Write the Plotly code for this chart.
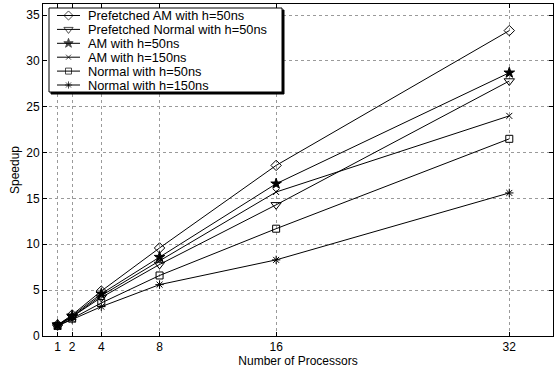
import plotly.graph_objects as go

processors = [1, 2, 4, 8, 16, 32]
series_names = [
    "Prefetched AM with h=50ns",
    "Prefetched Normal with h=50ns",
    "AM with h=50ns",
    "AM with h=150ns",
    "Normal with h=50ns",
    "Normal with h=150ns",
]
pref_am_50 = [1.2, 2.3, 4.9, 9.6, 18.6, 33.3]
pref_norm_50 = [1.2, 2.1, 4.2, 7.8, 14.3, 27.8]
am_50 = [1.2, 2.2, 4.6, 8.6, 16.6, 28.7]
am_150 = [1.1, 2.1, 4.4, 8.2, 15.7, 24.0]
norm_50 = [1.1, 1.9, 3.6, 6.6, 11.7, 21.5]
norm_150 = [1.1, 1.8, 3.2, 5.6, 8.3, 15.6]
series_values = [pref_am_50, pref_norm_50, am_50, am_150, norm_50, norm_150]
x_ticks = [1, 2, 4, 8, 16, 32]
y_ticks = [0, 5, 10, 15, 20, 25, 30, 35]

# styles
symbols = ["diamond-open", "triangle-down-open", "star", "x-thin-open",
           "square-open", "asterisk-open"]
sizes = [8, 9, 8, 6, 7, 7]

# figure geometry (pixels)
W, H = 555, 368
ML, MR, MT, MB = 43, 2, 4, 32
PX0, PX1 = ML, W - MR
PY0, PY1 = MT, H - MB

# legend box geometry in pixel coordinates of the overlay axes
LEG_X0, LEG_X1, LEG_Y0, LEG_Y1 = 49, 282, 8, 92
LEG_ROW0, LEG_ROW_STEP = 15.5, 13.9
LEG_LINE_X0, LEG_LINE_X1, LEG_TEXT_X = 57, 80, 87
LEG_FONT = 12.8

fig = go.Figure()
for name, vals, sym, sz in zip(series_names, series_values, symbols, sizes):
    fig.add_trace(go.Scatter(
        x=processors, y=vals, name=name, mode="lines+markers",
        line=dict(color="black", width=1),
        marker=dict(symbol=sym, size=sz, color="black",
                    line=dict(color="black", width=1)),
        showlegend=False,
    ))

# --- custom legend drawn on an overlay axis measured in pixels ---
fig.add_trace(go.Scatter(
    x=[LEG_X0 + 2, LEG_X1 + 2, LEG_X1 + 2, LEG_X0 + 2, LEG_X0 + 2],
    y=[LEG_Y0 + 2, LEG_Y0 + 2, LEG_Y1 + 2, LEG_Y1 + 2, LEG_Y0 + 2],
    xaxis="x2", yaxis="y2", mode="lines", fill="toself",
    fillcolor="black", line=dict(color="black", width=1),
    showlegend=False, hoverinfo="skip",
))
fig.add_trace(go.Scatter(
    x=[LEG_X0, LEG_X1, LEG_X1, LEG_X0, LEG_X0],
    y=[LEG_Y0, LEG_Y0, LEG_Y1, LEG_Y1, LEG_Y0],
    xaxis="x2", yaxis="y2", mode="lines", fill="toself",
    fillcolor="white", line=dict(color="black", width=1),
    showlegend=False, hoverinfo="skip",
))
for i, (name, sym, sz) in enumerate(zip(series_names, symbols, sizes)):
    ry = LEG_ROW0 + i * LEG_ROW_STEP
    fig.add_trace(go.Scatter(
        x=[LEG_LINE_X0, (LEG_LINE_X0 + LEG_LINE_X1) / 2, LEG_LINE_X1],
        y=[ry, ry, ry], xaxis="x2", yaxis="y2",
        mode="lines+markers",
        line=dict(color="black", width=1),
        marker=dict(symbol=sym, size=[0, sz - 1, 0], color="black",
                    line=dict(color="black", width=1)),
        showlegend=False, hoverinfo="skip",
    ))
    fig.add_annotation(x=LEG_TEXT_X, y=ry, xref="x2", yref="y2",
                       text=name, showarrow=False, xanchor="left",
                       yanchor="middle", borderpad=0,
                       font=dict(size=LEG_FONT, color="black"))

axis_common = dict(
    showline=True, linecolor="black", linewidth=1, mirror="ticks",
    ticks="inside", ticklen=4, tickcolor="black",
    showgrid=True, gridcolor="#9a9a9a", griddash="dot", gridwidth=1,
    zeroline=False, tickfont=dict(size=12, color="black"),
)
fig.update_xaxes(range=[0, 35], tickvals=x_ticks,
                 title=dict(text="Number of Processors", font=dict(size=12), standoff=2),
                 **axis_common)
fig.update_yaxes(range=[0, 36.2], tickvals=y_ticks,
                 title=dict(text="Speedup", font=dict(size=12), standoff=4),
                 **axis_common)
fig.update_layout(
    width=W, height=H,
    margin=dict(l=ML, r=MR, t=MT, b=MB),
    plot_bgcolor="white", paper_bgcolor="white",
    font=dict(family="Liberation Sans, Arial, sans-serif", color="black"),
    xaxis2=dict(overlaying="x", range=[PX0, PX1], visible=False, fixedrange=True),
    yaxis2=dict(overlaying="y", range=[PY1, PY0], visible=False, fixedrange=True),
    showlegend=False,
)
fig.write_html("out.html")
